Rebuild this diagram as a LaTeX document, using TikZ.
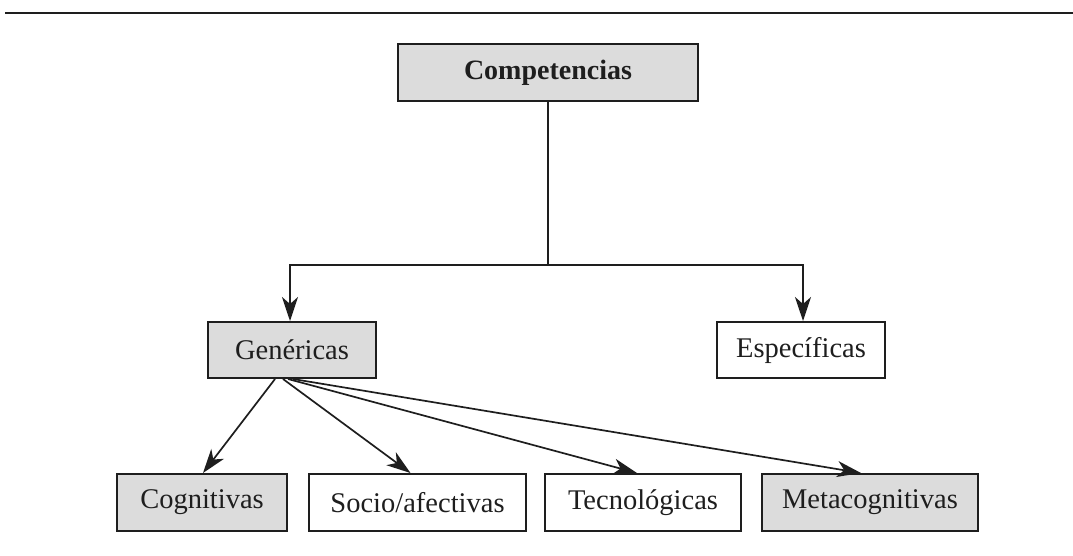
\documentclass[tikz,border=0pt]{standalone}
\usepackage{fontspec}
\setmainfont{Liberation Serif}
\usetikzlibrary{arrows.meta}
\definecolor{boxgray}{HTML}{DCDCDC}
\definecolor{ink}{HTML}{1E1E1E}
\tikzset{
  box/.style={draw=ink, line width=2pt, rectangle, inner sep=0pt, minimum height=57pt, font=\fontsize{28.5}{32}\selectfont, text=ink},
  graybox/.style={box, fill=boxgray},
  whitebox/.style={box, fill=white},
  conn/.style={draw=ink, line width=1.7pt},
  arr/.style={conn, -{Stealth[length=24pt,width=16pt,inset=7pt]}}
}
\begin{document}
\begin{tikzpicture}[x=1pt,y=-1pt]
\useasboundingbox (0,0) rectangle (1073,555);
\coordinate (ruleL) at (5,13);
\coordinate (ruleR) at (1073,13);
\draw[draw=ink, line width=2.5pt] (ruleL) -- (ruleR);

\node[graybox, minimum width=300pt, font=\fontsize{28}{32}\selectfont\bfseries] (comp) at (548,72.5) {Competencias};
\node[graybox, minimum width=168pt, minimum height=56pt] (gen) at (292,350) {Genéricas};
\node[whitebox, minimum width=168pt, minimum height=56pt] (esp) at (801,350) {Específicas};

\node[graybox, minimum width=170pt] (cog) at (202,502.5) {Cognitivas};
\node[whitebox, minimum width=217pt] (soc) at (417.5,502.5) {Socio/afectivas};
\node[whitebox, minimum width=196pt] (tec) at (643,502.5) {Tecnológicas};
\node[graybox, minimum width=216pt] (met) at (870,502.5) {Metacognitivas};

\coordinate (j) at (548,265);
\draw[conn] (comp.south) -- (j);
\draw[arr] (j) -| ([xshift=-2pt]gen.north);
\draw[arr] (j) -| ([xshift=2pt]esp.north);

\draw[arr] ([xshift=-17pt]gen.south) -- ([xshift=1pt]cog.north);
\draw[arr] ([xshift=-9pt]gen.south) -- ([xshift=-7pt]soc.north);
\draw[arr] ([xshift=-4pt]gen.south) -- ([xshift=-6pt]tec.north);
\draw[arr] ([xshift=1pt]gen.south) -- ([xshift=-9pt]met.north);
\end{tikzpicture}
\end{document}
